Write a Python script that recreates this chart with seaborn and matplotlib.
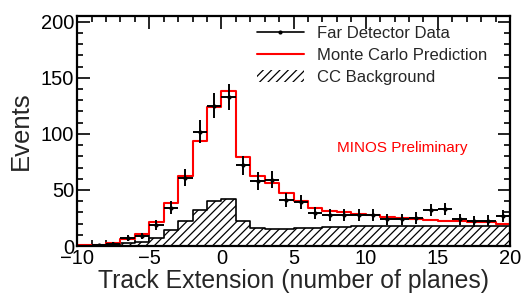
import numpy as np
import pandas as pd
import matplotlib
matplotlib.use('Agg')
import matplotlib.pyplot as plt
import seaborn as sns
from matplotlib.lines import Line2D
from matplotlib.patches import Patch
from matplotlib.ticker import MultipleLocator

# bins: -10 .. 20, width 1 plane
bin_centers = np.arange(-10, 20) + 0.5

# Monte Carlo prediction (total)
mc_pred = [0.5, 1, 2.5, 6, 11, 21, 38, 62, 94, 124,
           138, 79, 62, 56, 47, 40, 34, 31, 30, 29,
           27.5, 26, 25, 24, 23.5, 22.5, 22, 21.5, 21, 20]

# CC background
cc_bkg = [0.2, 0.5, 1, 2.5, 3.5, 7, 14, 22, 32, 40,
          41.5, 22, 16, 15, 15.5, 16, 16.5, 17, 17, 17.5,
          17.5, 18, 18, 18, 18, 18, 18, 18, 18, 18]

# Far detector data
fd_data = [0, 1, 2, 7, 9, 18.5, 34, 61, 102, 125,
           133, 72, 58, 59, 41, 39.5, 29.5, 27.5, 28, 28,
           27.5, 24, 24, 25, 32, 33, 24, 22, 22.5, 27]

df = pd.DataFrame({'ext': bin_centers, 'mc': mc_pred, 'cc': cc_bkg, 'data': fd_data})

sns.set_style("ticks")
plt.rcParams['font.family'] = ['Liberation Sans', 'DejaVu Sans']
plt.rcParams['hatch.linewidth'] = 0.9

fig, ax = plt.subplots(figsize=(5.21, 3.03), dpi=100)
fig.subplots_adjust(left=0.148, right=0.979, top=0.947, bottom=0.188)

# hatched CC background
sns.histplot(data=df, x='ext', weights='cc', binwidth=1, binrange=(-10, 20),
             element='step', fill=True, ax=ax, color='black', alpha=1)
poly = ax.collections[-1]
poly.set_facecolor('white')
poly.set_edgecolor('black')
poly.set_hatch('////')
poly.set_linewidth(1.2)

# MC prediction
sns.histplot(data=df, x='ext', weights='mc', binwidth=1, binrange=(-10, 20),
             element='step', fill=False, ax=ax, color='red', linewidth=1.5)

# data points
d = df[df['data'] > 0]
ax.errorbar(d['ext'], d['data'], xerr=0.5, yerr=np.sqrt(d['data']),
            fmt='.', color='black', markersize=4, elinewidth=1.4, capsize=0)

ax.set_xlim(-10, 20)
ax.set_ylim(0, 205)
ax.xaxis.set_major_locator(MultipleLocator(5))
ax.xaxis.set_minor_locator(MultipleLocator(1))
ax.yaxis.set_major_locator(MultipleLocator(50))
ax.yaxis.set_minor_locator(MultipleLocator(10))
ax.tick_params(which='both', direction='in', top=True, right=True,
               labelsize=14.5, width=1.2, color='black', labelcolor='black')
ax.tick_params(which='major', length=9, pad=2)
ax.tick_params(which='minor', length=4.5)
for sp in ax.spines.values():
    sp.set_linewidth(1.6)
    sp.set_color('black')

ax.set_xlabel("Track Extension (number of planes)", fontsize=17.8, labelpad=1)
ax.set_ylabel("Events", fontsize=18.5, labelpad=6)

ax.text(0.600, 0.426, "MINOS Preliminary", color='red', fontsize=11,
        transform=ax.transAxes, ha='left', va='center')

handles = [
    Line2D([], [], color='black', marker='.', markersize=4, linewidth=1.2),
    Line2D([], [], color='red', linewidth=1.5),
    Patch(facecolor='white', edgecolor='black', hatch='////', linewidth=0),
]
labels = ["Far Detector Data", "Monte Carlo Prediction", "CC Background"]
ax.legend(handles, labels, loc='upper left', bbox_to_anchor=(0.40, 0.985),
          frameon=False, fontsize=12, handlelength=2.8, handletextpad=0.8,
          labelspacing=0.4, borderaxespad=0)

fig.savefig("out.png", dpi=100)
